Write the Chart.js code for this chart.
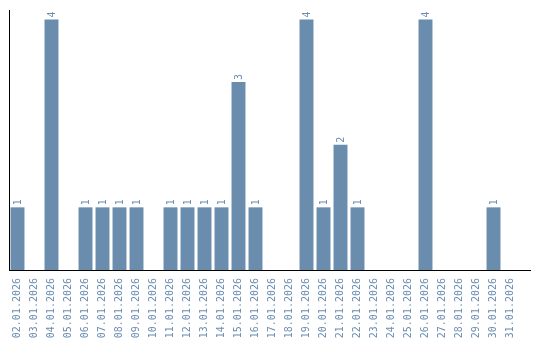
<!DOCTYPE html>
<html>
<head>
<meta charset="utf-8">
<script src="https://cdn.jsdelivr.net/npm/chart.js@4"></script>
<style>
  body { margin: 0; background: #fff; }
  canvas { display: block; }
</style>
</head>
<body>
<canvas id="daily-chart" width="540" height="340"></canvas>
<script>
let days = ['02.01.2026','03.01.2026','04.01.2026','05.01.2026','06.01.2026','07.01.2026',
  '08.01.2026','09.01.2026','10.01.2026','11.01.2026','12.01.2026','13.01.2026','14.01.2026',
  '15.01.2026','16.01.2026','17.01.2026','18.01.2026','19.01.2026','20.01.2026','21.01.2026',
  '22.01.2026','23.01.2026','24.01.2026','25.01.2026','26.01.2026','27.01.2026','28.01.2026',
  '29.01.2026','30.01.2026','31.01.2026'];
let counts = [1,0,4,0,1,1,1,1,0,1,1,1,1,3,1,0,0,4,1,2,1,0,0,0,4,0,0,0,1,0];

let barColor = '#6a8cad';
let textColor = '#6b8db0';
let monoFont = '"DejaVu Sans Mono", "Liberation Mono", monospace';

// value labels written upwards above each bar
let valueLabels = {
  id: 'valueLabels',
  afterDatasetsDraw(chart) {
    let ctx = chart.ctx;
    let meta = chart.getDatasetMeta(0);
    ctx.save();
    ctx.fillStyle = textColor;
    ctx.font = '10px ' + monoFont;
    ctx.textAlign = 'left';
    ctx.textBaseline = 'middle';
    meta.data.forEach((bar, i) => {
      if (!counts[i]) return;
      ctx.save();
      ctx.translate(bar.x + 1, bar.y - 2);
      ctx.rotate(-Math.PI / 2);
      ctx.fillText(String(counts[i]), 0, 0);
      ctx.restore();
    });
    ctx.restore();
  }
};

// x axis line runs a bit past the last category
let baseLine = {
  id: 'baseLine',
  afterDraw(chart) {
    let ctx = chart.ctx;
    let a = chart.chartArea;
    ctx.save();
    ctx.strokeStyle = '#000';
    ctx.lineWidth = 1;
    ctx.beginPath();
    ctx.moveTo(a.left, Math.round(a.bottom) + 0.5);
    ctx.lineTo(a.right + 12, Math.round(a.bottom) + 0.5);
    ctx.stroke();
    ctx.restore();
  }
};

new Chart(document.getElementById('daily-chart').getContext('2d'), {
  type: 'bar',
  data: {
    labels: days,
    datasets: [{
      data: counts,
      backgroundColor: barColor,
      borderWidth: 0,
      barPercentage: 0.82,
      categoryPercentage: 1
    }]
  },
  options: {
    responsive: false,
    animation: false,
    layout: { padding: { top: 10, right: 21, left: 0, bottom: 0 } },
    plugins: { legend: { display: false }, tooltip: { enabled: false } },
    scales: {
      x: {
        grid: { display: false, drawTicks: false },
        border: { display: false },
        ticks: {
          color: textColor,
          font: { family: monoFont, size: 10 },
          minRotation: 90,
          maxRotation: 90,
          autoSkip: false,
          padding: 8
        },
        afterFit(scale) { scale.height = 70; }
      },
      y: {
        min: 0,
        max: 4.15,
        grid: { display: false, drawTicks: false },
        border: { display: true, color: '#000', width: 1 },
        ticks: { display: false },
        afterFit(scale) { scale.width = 9; }
      }
    }
  },
  plugins: [valueLabels, baseLine]
});
</script>
</body>
</html>
